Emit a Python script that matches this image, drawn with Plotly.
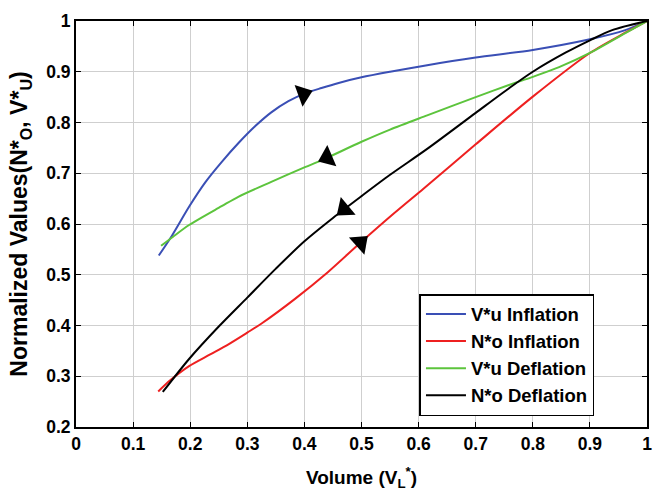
import numpy as np
import plotly.graph_objects as go

# ---- data ----
vu_infl_x = [0.145, 0.168, 0.198, 0.227, 0.255, 0.285, 0.314, 0.342, 0.372, 0.400, 0.430, 0.460,
             0.500, 0.550, 0.615, 0.700, 0.800, 0.900, 0.962, 1.000]
vu_infl_y = [0.538, 0.577, 0.634, 0.683, 0.722, 0.760, 0.793, 0.820, 0.842, 0.857, 0.868, 0.878,
             0.889, 0.900, 0.913, 0.928, 0.943, 0.964, 0.982, 1.000]

no_infl_x = [0.144, 0.165, 0.198, 0.235, 0.267, 0.300, 0.325, 0.383, 0.441, 0.498, 0.557, 0.609,
             0.700, 0.800, 0.900, 0.962, 1.000]
no_infl_y = [0.270, 0.292, 0.320, 0.343, 0.363, 0.386, 0.404, 0.452, 0.505, 0.563, 0.621, 0.670,
             0.757, 0.851, 0.937, 0.977, 1.000]

vu_defl_x = [0.149, 0.170, 0.198, 0.255, 0.285, 0.342, 0.401, 0.429, 0.500, 0.550, 0.615, 0.700,
             0.771, 0.800, 0.846, 0.900, 0.962, 1.000]
vu_defl_y = [0.557, 0.575, 0.598, 0.635, 0.654, 0.683, 0.712, 0.725, 0.762, 0.786, 0.814, 0.850,
             0.879, 0.890, 0.909, 0.937, 0.976, 1.000]

no_defl_x = [0.152, 0.198, 0.250, 0.300, 0.350, 0.400, 0.450, 0.500, 0.550, 0.615, 0.700, 0.759,
             0.800, 0.858, 0.900, 0.939, 1.000]
no_defl_y = [0.269, 0.334, 0.398, 0.455, 0.512, 0.566, 0.612, 0.655, 0.697, 0.748, 0.819, 0.868,
             0.900, 0.938, 0.962, 0.982, 1.000]

# arrow (direction marker) positions along each curve, and their pointing angle (deg, clockwise from up)
arrow_x = {"vu_infl": 0.398, "vu_defl": 0.440, "no_defl": 0.470, "no_infl": 0.498}
arrow_angle = {"vu_infl": 70, "vu_defl": 247, "no_defl": 230, "no_infl": 48}

x_ticks = [0, 0.1, 0.2, 0.3, 0.4, 0.5, 0.6, 0.7, 0.8, 0.9, 1]
y_ticks = [0.2, 0.3, 0.4, 0.5, 0.6, 0.7, 0.8, 0.9, 1]

FONT = "Liberation Sans, Arial, sans-serif"

series = [
    ("V*u Inflation", vu_infl_x, vu_infl_y, "#3a4fb5", "vu_infl"),
    ("N*o Inflation", no_infl_x, no_infl_y, "#ee2020", "no_infl"),
    ("V*u Deflation", vu_defl_x, vu_defl_y, "#5cc43c", "vu_defl"),
    ("N*o Deflation", no_defl_x, no_defl_y, "#000000", "no_defl"),
]

fig = go.Figure()
for name, xs, ys, col, key in series:
    fig.add_trace(go.Scatter(x=xs, y=ys, mode="lines", name=name,
                             line=dict(color=col, width=2, shape="spline", smoothing=0.8)))

# arrowheads
for name, xs, ys, col, key in series:
    ax = arrow_x[key]
    ay = float(np.interp(ax, xs, ys))
    fig.add_trace(go.Scatter(x=[ax], y=[ay], mode="markers", showlegend=False,
                             marker=dict(symbol="triangle-up", size=20, color="black",
                                         angle=arrow_angle[key], line=dict(width=0))))

axis_common = dict(
    showline=True, linecolor="black", linewidth=2, mirror="allticks",
    ticks="inside", ticklen=5, tickwidth=1, tickcolor="black",
    showgrid=True, gridcolor="#cfcfcf", gridwidth=1, zeroline=False,
    tickfont=dict(family=FONT, size=17.5, color="black", weight="bold"),
)

fig.update_layout(
    width=663, height=500,
    margin=dict(l=76, r=11, t=15, b=73),
    paper_bgcolor="white", plot_bgcolor="white",
    font=dict(family=FONT, color="black"),
    xaxis=dict(range=[0, 1], tickvals=x_ticks, ticktext=[f"{v:g}" for v in x_ticks],
               title=dict(text="Volume (V<sub>L</sub><sup>*</sup>)", standoff=18,
                          font=dict(family=FONT, size=19, color="black", weight="bold")),
               **axis_common),
    yaxis=dict(range=[0.2, 1], tickvals=y_ticks, ticktext=[f"{v:g}" for v in y_ticks],
               title=dict(text="Normalized Values(N*<sub>O</sub>, V*<sub>U</sub>)", standoff=12,
                          font=dict(family=FONT, size=23, color="black", weight="bold")),
               **axis_common),
    legend=dict(x=0.908, y=0.027, xanchor="right", yanchor="bottom",
                bgcolor="white", bordercolor="black", borderwidth=1.5,
                itemwidth=40, tracegroupgap=0,
                font=dict(family=FONT, size=18.5, color="black", weight="bold")),
)

fig.write_html("out.html", config={"displayModeBar": False},
               post_script="document.body.style.margin='0px';document.body.style.overflow='hidden';")
